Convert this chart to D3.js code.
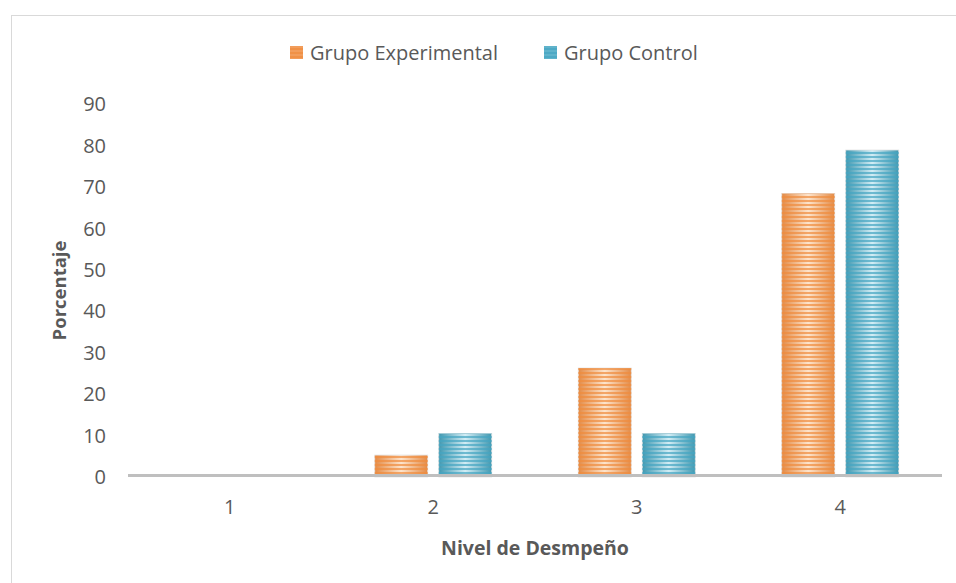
<!DOCTYPE html>
<html>
<head>
<meta charset="utf-8">
<script src="https://cdn.jsdelivr.net/npm/d3@7"></script>
<style>
  body { margin: 0; background: #fff; }
  text { font-family: "Open Sans", Lato, sans-serif; fill: #595959; }
</style>
</head>
<body>
<div class="chart"></div>
<script>
// --- Data ---
const niveles = ["1", "2", "3", "4"];
const grupoExperimental = [0, 5.3, 26.3, 68.4];
const grupoControl = [0, 10.5, 10.5, 78.9];
const yTicks = [0, 10, 20, 30, 40, 50, 60, 70, 80, 90];
const seriesNames = ["Grupo Experimental", "Grupo Control"];

// --- Config ---
const width = 956, height = 583;
const margin = { top: 104, right: 14, bottom: 106, left: 128 };
const barW = 53, gap = 11;

const svg = d3.select(".chart").append("svg")
  .attr("width", width)
  .attr("height", height);

// colours: edge / centre of the gradient, plus stripe colour
const palette = [
  { id: "exp", edge: "#E38B47", mid: "#FDE4CC", stripe: "#F08C3E" },
  { id: "ctl", edge: "#4198B0", mid: "#D2EDF5", stripe: "#44A6C2" }
];

const defs = svg.append("defs");
palette.forEach(p => {
  const g = defs.append("linearGradient")
    .attr("id", "grad-" + p.id)
    .attr("x1", "0").attr("x2", "1").attr("y1", "0").attr("y2", "0");
  g.append("stop").attr("offset", "0%").attr("stop-color", p.edge);
  g.append("stop").attr("offset", "50%").attr("stop-color", p.mid);
  g.append("stop").attr("offset", "100%").attr("stop-color", p.edge);

  const pat = defs.append("pattern")
    .attr("id", "stripe-" + p.id)
    .attr("patternUnits", "userSpaceOnUse")
    .attr("width", 8).attr("height", 4);
  pat.append("rect")
    .attr("width", 8).attr("height", 2)
    .attr("fill", p.stripe).attr("opacity", 0.7);
});

// frame
svg.append("rect")
  .attr("x", 11.5).attr("y", 15.5)
  .attr("width", width).attr("height", height)
  .attr("fill", "none")
  .attr("stroke", "#D9D9D9");

// --- Scales ---
const x = d3.scaleBand()
  .domain(niveles)
  .range([margin.left, width - margin.right]);

const y = d3.scaleLinear()
  .domain([0, 90])
  .range([height - margin.bottom, margin.top]);

// y tick labels
svg.append("g").selectAll("text")
  .data(yTicks)
  .join("text")
  .attr("x", 106)
  .attr("y", d => y(d))
  .attr("dy", "0.36em")
  .attr("text-anchor", "end")
  .style("font-size", "20px")
  .text(d => d);

// x tick labels
svg.append("g").selectAll("text")
  .data(niveles)
  .join("text")
  .attr("x", d => x(d) + x.bandwidth() / 2)
  .attr("y", 507)
  .attr("dy", "0.36em")
  .attr("text-anchor", "middle")
  .style("font-size", "20px")
  .text(d => d);

// --- Bars ---
const series = [grupoExperimental, grupoControl];
series.forEach((vals, s) => {
  const p = palette[s];
  const data = niveles.map((n, i) => ({ n, v: vals[i] })).filter(d => d.v > 0);
  const bx = d => x(d.n) + x.bandwidth() / 2 + (s === 0 ? -gap / 2 - barW : gap / 2);

  const g = svg.append("g");
  g.selectAll(".base")
    .data(data)
    .join("rect")
    .attr("x", bx)
    .attr("y", d => y(d.v))
    .attr("width", barW)
    .attr("height", d => y(0) - y(d.v))
    .attr("fill", `url(#grad-${p.id})`)
    .attr("stroke", "#E4E4E4")
    .attr("stroke-width", 0.8);
  g.selectAll(".stripe")
    .data(data)
    .join("rect")
    .attr("x", bx)
    .attr("y", d => y(d.v))
    .attr("width", barW)
    .attr("height", d => y(0) - y(d.v))
    .attr("fill", `url(#stripe-${p.id})`);
});

// x axis line
svg.append("line")
  .attr("x1", margin.left).attr("x2", width - margin.right)
  .attr("y1", y(0) - 1.5).attr("y2", y(0) - 1.5)
  .attr("stroke", "#BFBFBF")
  .attr("stroke-width", 3);

// --- Axis titles ---
svg.append("text")
  .attr("transform", `translate(66, ${(y(0) + y(90)) / 2}) rotate(-90)`)
  .attr("text-anchor", "middle")
  .style("font-size", "18.5px")
  .style("font-weight", "bold")
  .text("Porcentaje");

svg.append("text")
  .attr("x", 535)
  .attr("y", 548)
  .attr("dy", "0.36em")
  .attr("text-anchor", "middle")
  .style("font-size", "19.5px")
  .style("font-weight", "bold")
  .text("Nivel de Desmpeño");

// --- Legend ---
const legendX = [290, 544];
const legend = svg.append("g");
seriesNames.forEach((name, i) => {
  const p = palette[i];
  legend.append("rect")
    .attr("x", legendX[i]).attr("y", 46)
    .attr("width", 13).attr("height", 13)
    .attr("fill", p.stripe).attr("opacity", 0.85);
  legend.append("rect")
    .attr("x", legendX[i]).attr("y", 46)
    .attr("width", 13).attr("height", 13)
    .attr("fill", `url(#stripe-${p.id})`);
  legend.append("text")
    .attr("x", legendX[i] + 20)
    .attr("y", 53)
    .attr("dy", "0.36em")
    .style("font-size", "20px")
    .text(name);
});
</script>
</body>
</html>
